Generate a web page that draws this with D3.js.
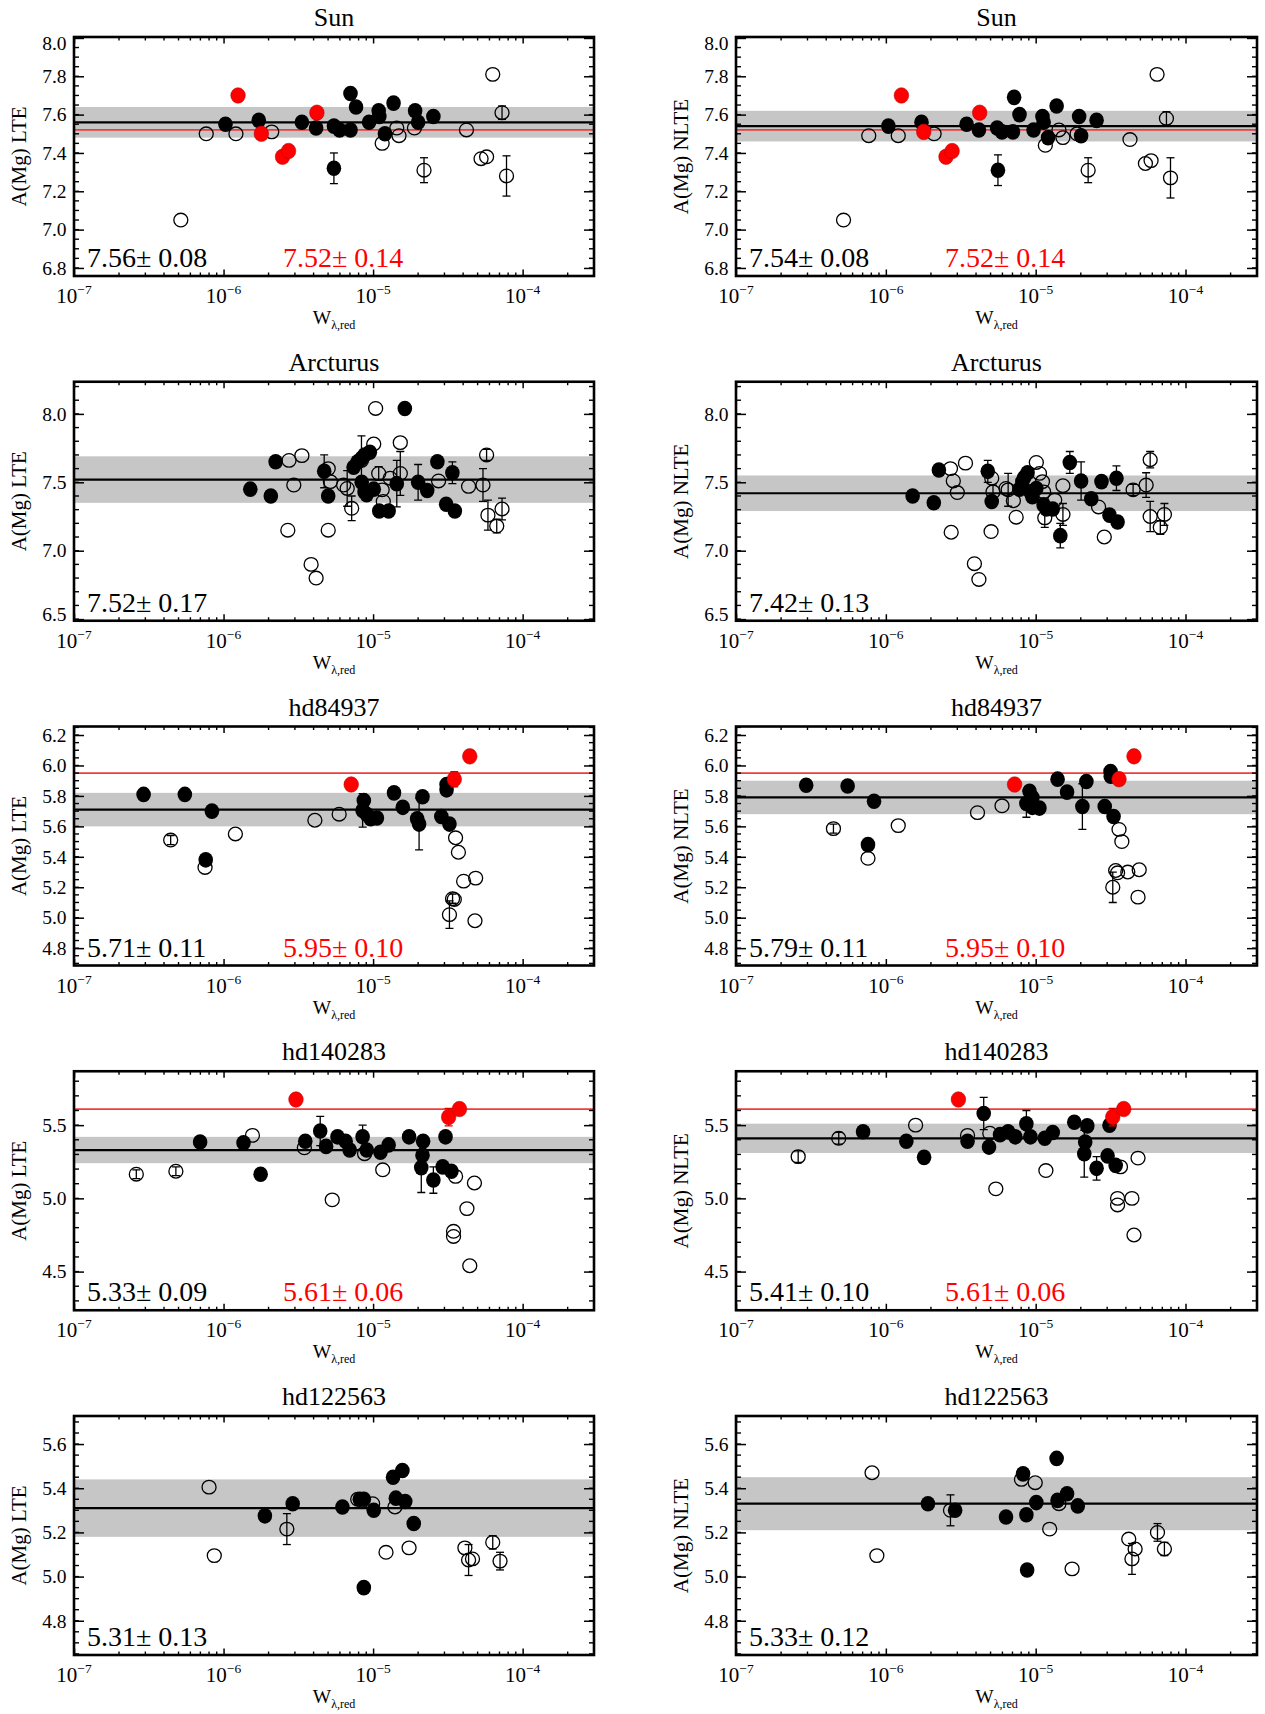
<!DOCTYPE html>
<html><head><meta charset="utf-8">
<script src="https://cdn.jsdelivr.net/npm/d3@7"></script>
<style>body{margin:0;background:#fff} text{font-family:"Liberation Serif","Times New Roman",serif;fill:#000}</style>
</head><body><svg id="c" width="1265" height="1714"></svg>
<script>
// ---------- data: [W_lambda,red , A(Mg), error] ----------
const stars = ["Sun","Arcturus","hd84937","hd140283","hd122563"];
const meanLTE = [7.56, 7.52, 5.71, 5.33, 5.31];
const sigLTE  = [0.08, 0.17, 0.11, 0.09, 0.13];
const meanNLTE = [7.54, 7.42, 5.79, 5.41, 5.33];
const sigNLTE  = [0.08, 0.13, 0.11, 0.10, 0.12];
const redMean = [7.52, null, 5.95, 5.61, null];
const redSig  = [0.14, null, 0.10, 0.06, null];
const yDomains = [[6.758, 8.005],[6.488, 8.235],[4.686, 6.256],[4.236, 5.868],[4.645, 5.727]];
const yTicks = [[6.8,7.0,7.2,7.4,7.6,7.8,8.0],[6.5,7.0,7.5,8.0],[4.8,5.0,5.2,5.4,5.6,5.8,6.0,6.2],[4.5,5.0,5.5],[4.8,5.0,5.2,5.4,5.6]];
const yMinor = [0.05, 0.1, 0.05, 0.1, 0.05];
const xDomain = [1e-7, 3e-4];
const xDecades = [1e-7, 1e-6, 1e-5, 1e-4];
const xDecadeLabels = ["−7","−6","−5","−4"];

const sunLteFilled = [[1.03e-6,7.55,0],[1.72e-6,7.57,0],[3.34e-6,7.56,0],[4.16e-6,7.53,0],[5.47e-6,7.54,0],[5.97e-6,7.52,0],[7.06e-6,7.52,0],[7.06e-6,7.71,0],[7.69e-6,7.64,0],[9.40e-6,7.56,0],[1.09e-5,7.62,0],[1.10e-5,7.59,0],[1.20e-5,7.50,0],[1.37e-5,7.66,0],[1.91e-5,7.62,0],[2.00e-5,7.56,0],[2.53e-5,7.59,0],[5.47e-6,7.32,0.08]];
const sunLteRed = [[1.25e-6,7.70,0],[1.79e-6,7.50,0],[4.21e-6,7.61,0],[2.48e-6,7.38,0],[2.72e-6,7.41,0]];
const sunLteOpen = [[5.18e-7,7.05,0],[7.66e-7,7.50,0],[1.21e-6,7.50,0],[2.10e-6,7.51,0],[1.15e-5,7.45,0],[1.44e-5,7.53,0],[1.49e-5,7.49,0],[1.89e-5,7.53,0],[2.19e-5,7.31,0.065],[4.21e-5,7.52,0],[5.27e-5,7.37,0],[5.74e-5,7.38,0],[6.31e-5,7.81,0],[7.28e-5,7.61,0.035],[7.80e-5,7.28,0.105]];

const sunNlteFilled = [[1.04e-6,7.54,0],[1.73e-6,7.56,0],[3.46e-6,7.55,0],[4.18e-6,7.52,0],[5.53e-6,7.53,0],[5.96e-6,7.51,0],[7.05e-6,7.51,0],[7.18e-6,7.69,0],[7.80e-6,7.60,0],[9.68e-6,7.52,0],[1.11e-5,7.59,0],[1.13e-5,7.56,0],[1.21e-5,7.48,0],[1.38e-5,7.645,0],[1.95e-5,7.59,0],[2.01e-5,7.49,0],[2.55e-5,7.57,0],[5.60e-6,7.31,0.08]];
const sunNlteRed = [[1.27e-6,7.70,0],[1.79e-6,7.51,0],[4.23e-6,7.61,0],[2.52e-6,7.38,0],[2.77e-6,7.41,0]];
const sunNlteOpen = [[5.22e-7,7.05,0],[7.69e-7,7.49,0],[1.21e-6,7.49,0],[2.10e-6,7.50,0],[1.16e-5,7.44,0],[1.43e-5,7.52,0],[1.52e-5,7.48,0],[1.89e-5,7.50,0],[2.24e-5,7.31,0.065],[4.26e-5,7.47,0],[5.40e-5,7.345,0],[5.89e-5,7.36,0],[6.46e-5,7.81,0],[7.46e-5,7.58,0.035],[7.94e-5,7.27,0.105]];

const arcLteFilled = [[1.51e-6,7.45,0],[2.07e-6,7.40,0],[2.23e-6,7.65,0],[4.71e-6,7.58,0.12],[5.01e-6,7.40,0],[7.41e-6,7.61,0],[7.89e-6,7.65,0],[8.39e-6,7.675,0],[8.77e-6,7.70,0],[9.51e-6,7.72,0],[8.39e-6,7.50,0],[8.77e-6,7.43,0],[9.06e-6,7.41,0],[1.01e-5,7.45,0],[1.10e-5,7.29,0],[1.27e-5,7.29,0],[1.44e-5,7.49,0.17],[2.00e-5,7.50,0.13],[2.30e-5,7.44,0],[2.69e-5,7.65,0],[3.08e-5,7.34,0],[3.39e-5,7.57,0.08],[3.52e-5,7.29,0],[1.63e-5,8.04,0]];
const arcLteOpen = [[2.69e-6,7.15,0],[2.74e-6,7.66,0],[2.95e-6,7.48,0],[3.34e-6,7.695,0],[3.85e-6,6.90,0],[4.16e-6,6.80,0],[5.01e-6,7.15,0],[5.01e-6,7.60,0],[5.18e-6,7.505,0],[6.35e-6,7.48,0],[6.71e-6,7.455,0.13],[7.19e-6,7.31,0.09],[8.36e-6,7.66,0.18],[1.01e-5,7.78,0],[1.04e-5,8.04,0],[1.09e-5,7.565,0.05],[1.15e-5,7.445,0],[1.17e-5,7.36,0],[1.30e-5,7.53,0],[1.52e-5,7.79,0],[1.52e-5,7.565,0.16],[2.74e-5,7.51,0],[4.35e-5,7.47,0],[5.43e-5,7.48,0.12],[5.74e-5,7.70,0.04],[5.86e-5,7.26,0.11],[6.71e-5,7.18,0.05],[7.28e-5,7.305,0.08]];

const arcNlteFilled = [[1.51e-6,7.40,0],[2.09e-6,7.35,0],[2.26e-6,7.59,0],[4.79e-6,7.58,0.08],[5.09e-6,7.36,0],[7.80e-6,7.45,0],[8.15e-6,7.505,0],[8.39e-6,7.535,0],[8.83e-6,7.57,0],[9.23e-6,7.43,0],[9.51e-6,7.395,0],[1.01e-5,7.455,0],[1.13e-5,7.335,0],[1.18e-5,7.305,0],[1.30e-5,7.305,0],[1.46e-5,7.11,0.09],[1.69e-5,7.645,0.08],[2.01e-5,7.51,0.14],[2.35e-5,7.38,0],[2.75e-5,7.505,0],[3.11e-5,7.26,0],[3.46e-5,7.53,0.09],[3.52e-5,7.21,0]];
const arcNlteOpen = [[2.73e-6,7.135,0],[2.70e-6,7.60,0],[2.82e-6,7.51,0],[3.00e-6,7.425,0],[3.40e-6,7.64,0],[3.90e-6,6.905,0],[4.18e-6,6.79,0],[5.04e-6,7.14,0],[5.09e-6,7.53,0],[5.19e-6,7.43,0.05],[6.34e-6,7.455,0],[6.55e-6,7.445,0.12],[7.10e-6,7.365,0],[7.41e-6,7.245,0],[1.01e-5,7.645,0],[1.06e-5,7.565,0],[1.11e-5,7.505,0],[1.13e-5,7.43,0],[1.15e-5,7.24,0.07],[1.34e-5,7.37,0],[1.52e-5,7.475,0],[1.52e-5,7.265,0.08],[2.63e-5,7.32,0],[2.87e-5,7.10,0],[4.47e-5,7.445,0.04],[5.46e-5,7.48,0.09],[5.81e-5,7.665,0.06],[5.81e-5,7.25,0.11],[6.79e-5,7.17,0.05],[7.23e-5,7.265,0.08]];

const hd84937LteFilled = [[2.92e-7,5.81,0],[5.51e-7,5.81,0],[8.36e-7,5.70,0],[7.60e-7,5.38,0],[8.67e-6,5.77,0],[8.51e-6,5.705,0.11],[9.06e-6,5.68,0],[9.64e-6,5.65,0],[1.06e-5,5.655,0],[1.38e-5,5.82,0],[1.58e-5,5.725,0],[2.03e-5,5.615,0.17],[1.97e-5,5.65,0],[2.14e-5,5.795,0],[2.86e-5,5.665,0],[3.10e-5,5.875,0],[3.10e-5,5.84,0],[3.24e-5,5.615,0]];
const hd84937LteRed = [[7.14e-6,5.875,0],[3.49e-5,5.91,0.05],[4.43e-5,6.06,0]];
const hd84937LteOpen = [[4.43e-7,5.51,0.03],[7.52e-7,5.33,0],[1.20e-6,5.55,0],[4.08e-6,5.64,0],[5.93e-6,5.68,0],[3.56e-5,5.525,0],[3.72e-5,5.43,0],[4.03e-5,5.24,0],[4.85e-5,5.26,0],[3.40e-5,5.125,0.03],[3.49e-5,5.12,0],[3.24e-5,5.02,0.09],[4.80e-5,4.98,0]];

const hd84937NlteFilled = [[2.94e-7,5.87,0],[5.56e-7,5.865,0],[8.34e-7,5.765,0],[7.60e-7,5.48,0],[9.10e-6,5.83,0],[8.67e-6,5.75,0.09],[9.51e-6,5.79,0],[9.51e-6,5.725,0],[1.06e-5,5.72,0],[1.40e-5,5.91,0],[1.62e-5,5.825,0],[2.05e-5,5.73,0.15],[2.18e-5,5.895,0],[2.89e-5,5.73,0],[3.16e-5,5.96,0],[3.17e-5,5.93,0],[3.31e-5,5.665,0]];
const hd84937NlteRed = [[7.23e-6,5.875,0],[3.60e-5,5.91,0.04],[4.53e-5,6.06,0]];
const hd84937NlteOpen = [[4.47e-7,5.585,0.03],[7.60e-7,5.39,0],[1.21e-6,5.605,0],[4.09e-6,5.69,0],[5.96e-6,5.735,0],[3.60e-5,5.58,0],[3.76e-5,5.50,0],[3.42e-5,5.31,0],[3.52e-5,5.295,0],[3.27e-5,5.20,0.10],[4.12e-5,5.30,0],[4.91e-5,5.315,0],[4.82e-5,5.135,0]];

const hd140283LteFilled = [[6.97e-7,5.385,0],[1.36e-6,5.38,0],[1.77e-6,5.165,0],[3.52e-6,5.39,0],[4.43e-6,5.46,0.10],[4.85e-6,5.355,0],[5.78e-6,5.42,0],[6.55e-6,5.39,0],[6.97e-6,5.33,0],[8.51e-6,5.42,0.08],[9.06e-6,5.33,0],[1.12e-5,5.315,0],[1.27e-5,5.365,0],[1.74e-5,5.42,0],[2.16e-5,5.39,0],[2.14e-5,5.295,0],[2.10e-5,5.21,0.17],[2.53e-5,5.125,0.09],[2.92e-5,5.215,0],[3.05e-5,5.42,0],[3.34e-5,5.185,0]];
const hd140283LteRed = [[3.05e-6,5.675,0],[3.20e-5,5.555,0.06],[3.78e-5,5.61,0]];
const hd140283LteOpen = [[2.61e-7,5.165,0.03],[4.80e-7,5.185,0.03],[1.56e-6,5.43,0],[3.47e-6,5.345,0],[5.33e-6,4.99,0],[8.77e-6,5.305,0],[1.16e-5,5.195,0],[3.56e-5,5.15,0],[4.76e-5,5.105,0],[4.24e-5,4.93,0],[3.45e-5,4.775,0],[3.45e-5,4.74,0],[4.43e-5,4.54,0]];

const hd140283NlteFilled = [[7.05e-7,5.455,0],[1.37e-6,5.39,0],[1.80e-6,5.28,0],[3.51e-6,5.39,0],[4.50e-6,5.58,0.11],[4.88e-6,5.35,0],[5.78e-6,5.435,0],[6.55e-6,5.455,0],[7.31e-6,5.42,0],[8.67e-6,5.51,0.09],[9.23e-6,5.42,0],[1.15e-5,5.41,0],[1.30e-5,5.45,0],[1.81e-5,5.52,0],[2.21e-5,5.495,0],[2.14e-5,5.385,0],[2.11e-5,5.305,0.16],[2.55e-5,5.205,0.08],[3.02e-5,5.29,0],[3.11e-5,5.50,0],[3.42e-5,5.225,0]];
const hd140283NlteRed = [[3.05e-6,5.675,0],[3.27e-5,5.555,0.06],[3.87e-5,5.61,0]];
const hd140283NlteOpen = [[2.60e-7,5.285,0.04],[4.85e-7,5.41,0.04],[1.58e-6,5.50,0],[3.51e-6,5.43,0],[4.94e-6,5.445,0],[5.42e-6,5.065,0],[1.17e-5,5.19,0],[3.68e-5,5.215,0],[4.82e-5,5.275,0],[3.52e-5,5.00,0],[3.52e-5,4.955,0],[4.39e-5,5.00,0],[4.53e-5,4.75,0]];

const hd122563LteFilled = [[1.89e-6,5.275,0],[2.90e-6,5.33,0],[6.24e-6,5.315,0],[8.15e-6,5.35,0],[8.67e-6,5.35,0],[1.01e-5,5.30,0],[1.36e-5,5.45,0],[1.57e-5,5.48,0],[1.42e-5,5.355,0],[1.64e-5,5.34,0],[1.87e-5,5.24,0],[8.67e-6,4.95,0]];
const hd122563LteOpen = [[8.00e-7,5.405,0],[8.67e-7,5.095,0],[2.65e-6,5.215,0.07],[7.89e-6,5.35,0],[9.93e-6,5.33,0],[1.40e-5,5.315,0],[1.22e-5,5.11,0],[1.74e-5,5.13,0],[4.11e-5,5.13,0],[4.35e-5,5.075,0.07],[4.62e-5,5.08,0],[6.31e-5,5.155,0.03],[7.06e-5,5.07,0.04]];

const hd122563NlteFilled = [[1.91e-6,5.33,0],[2.90e-6,5.30,0],[6.34e-6,5.27,0],[8.24e-6,5.465,0],[8.67e-6,5.28,0],[1.01e-5,5.335,0],[1.38e-5,5.535,0],[1.40e-5,5.345,0],[1.62e-5,5.375,0],[1.91e-5,5.32,0],[8.77e-6,5.03,0]];
const hd122563NlteOpen = [[8.09e-7,5.47,0],[8.71e-7,5.095,0],[2.70e-6,5.30,0.07],[8.04e-6,5.44,0],[9.93e-6,5.425,0],[1.43e-5,5.33,0],[1.24e-5,5.215,0],[1.75e-5,5.035,0],[4.18e-5,5.17,0],[4.39e-5,5.08,0.07],[4.61e-5,5.125,0],[6.50e-5,5.20,0.04],[7.23e-5,5.125,0.03]];

// ---------- assemble ----------
const panelData = [
  [{filled:sunLteFilled, open:sunLteOpen, red:sunLteRed},{filled:sunNlteFilled, open:sunNlteOpen, red:sunNlteRed}],
  [{filled:arcLteFilled, open:arcLteOpen, red:[]},{filled:arcNlteFilled, open:arcNlteOpen, red:[]}],
  [{filled:hd84937LteFilled, open:hd84937LteOpen, red:hd84937LteRed},{filled:hd84937NlteFilled, open:hd84937NlteOpen, red:hd84937NlteRed}],
  [{filled:hd140283LteFilled, open:hd140283LteOpen, red:hd140283LteRed},{filled:hd140283NlteFilled, open:hd140283NlteOpen, red:hd140283NlteRed}],
  [{filled:hd122563LteFilled, open:hd122563LteOpen, red:[]},{filled:hd122563NlteFilled, open:hd122563NlteOpen, red:[]}]
];

const svg = d3.select("#c");
const colL = [74, 736], colW = [520, 521];
const H = 239;
const rowTop = i => 37 + i * 344.75;

function drawPanel(i, j) {
  const L = colL[j], R = L + colW[j], T = rowTop(i), B = T + H;
  const x = d3.scaleLog().domain(xDomain).range([L, R]);
  const y = d3.scaleLinear().domain(yDomains[i]).range([B, T]);
  const g = svg.append("g");
  const clipId = "clip" + i + "_" + j;
  svg.append("clipPath").attr("id", clipId).append("rect")
    .attr("x", L).attr("y", T).attr("width", R - L).attr("height", H);
  const pg = g.append("g").attr("clip-path", `url(#${clipId})`);
  const mean = j === 0 ? meanLTE[i] : meanNLTE[i];
  const sig = j === 0 ? sigLTE[i] : sigNLTE[i];

  pg.append("rect").attr("x", L).attr("width", R - L)
    .attr("y", y(mean + sig)).attr("height", y(mean - sig) - y(mean + sig))
    .attr("fill", "#c6c6c6");
  pg.append("line").attr("x1", L).attr("x2", R).attr("y1", y(mean)).attr("y2", y(mean))
    .attr("stroke", "#000").attr("stroke-width", 2.2);
  if (redMean[i] !== null) {
    pg.append("line").attr("x1", L).attr("x2", R).attr("y1", y(redMean[i])).attr("y2", y(redMean[i]))
      .attr("stroke", "#f03c3c").attr("stroke-width", 1.7);
  }

  const d = panelData[i][j];
  function errBars(arr, color) {
    arr.filter(p => p[2] > 0).forEach(p => {
      const cx = x(p[0]), y1 = y(p[1] + p[2]), y2 = y(p[1] - p[2]);
      pg.append("line").attr("x1", cx).attr("x2", cx).attr("y1", y1).attr("y2", y2)
        .attr("stroke", color).attr("stroke-width", 1.3);
      [y1, y2].forEach(yy => pg.append("line").attr("x1", cx - 4).attr("x2", cx + 4)
        .attr("y1", yy).attr("y2", yy).attr("stroke", color).attr("stroke-width", 1.3));
    });
  }
  pg.selectAll(null).data(d.open).join("ellipse")
    .attr("cx", p => x(p[0])).attr("cy", p => y(p[1])).attr("rx", 7).attr("ry", 6.8)
    .attr("fill", "none").attr("stroke", "#000").attr("stroke-width", 1.3);
  errBars(d.open, "#000");
  pg.selectAll(null).data(d.filled).join("ellipse")
    .attr("cx", p => x(p[0])).attr("cy", p => y(p[1])).attr("rx", 7.3).attr("ry", 7.8)
    .attr("fill", "#000");
  errBars(d.filled, "#000");
  errBars(d.red, "#e00000");
  pg.selectAll(null).data(d.red).join("ellipse")
    .attr("cx", p => x(p[0])).attr("cy", p => y(p[1])).attr("rx", 7.3).attr("ry", 7.8)
    .attr("fill", "#ff0000").attr("stroke", "#b00000").attr("stroke-width", 0.5);

  // minor ticks
  const tk = g.append("g").attr("stroke", "#000").attr("stroke-width", 1.4);
  const xMinor = [];
  xDecades.forEach(dd => { for (let k = 2; k <= 9; k++) { const v = dd * k; if (v <= xDomain[1]) xMinor.push(v); } });
  xMinor.forEach(v => {
    tk.append("line").attr("x1", x(v)).attr("x2", x(v)).attr("y1", B).attr("y2", B - 3.5);
    tk.append("line").attr("x1", x(v)).attr("x2", x(v)).attr("y1", T).attr("y2", T + 3.5);
  });
  const st = yMinor[i];
  const y0 = Math.ceil(yDomains[i][0] / st - 1e-6) * st;
  for (let v = y0; v <= yDomains[i][1] + 1e-9; v += st) {
    tk.append("line").attr("x1", L).attr("x2", L + 5).attr("y1", y(v)).attr("y2", y(v));
    tk.append("line").attr("x1", R).attr("x2", R - 5).attr("y1", y(v)).attr("y2", y(v));
  }
  // major ticks via axes
  const ax = [
    g.append("g").attr("transform", `translate(0,${B})`).call(d3.axisBottom(x).tickValues(xDecades).tickSize(-6.5).tickFormat("")),
    g.append("g").attr("transform", `translate(0,${T})`).call(d3.axisTop(x).tickValues(xDecades).tickSize(-6.5).tickFormat("")),
    g.append("g").attr("transform", `translate(${R},0)`).call(d3.axisRight(y).tickValues(yTicks[i]).tickSize(-10).tickFormat("")),
    g.append("g").attr("transform", `translate(${L},0)`).call(d3.axisLeft(y).tickValues(yTicks[i]).tickSize(-10).tickPadding(7.5).tickFormat(d3.format(".1f")))
  ];
  ax.forEach(a => { a.select(".domain").remove(); a.selectAll(".tick line").attr("stroke-width", 1.5); });
  ax[3].selectAll(".tick text").attr("font-size", 19.5).attr("font-family", '"Liberation Serif",serif').attr("fill", "#000")
    .attr("y", v => { const p = y(v); return Math.max(T + 6, Math.min(B - 6, p)) - p; });

  // frame
  g.append("rect").attr("x", L).attr("y", T).attr("width", R - L).attr("height", H)
    .attr("fill", "none").attr("stroke", "#000").attr("stroke-width", 2.6);

  // x tick labels
  xDecades.forEach((v, k) => {
    const t = g.append("text").attr("x", x(v)).attr("y", B + 27).attr("text-anchor", "middle").attr("font-size", 21);
    t.append("tspan").text("10");
    t.append("tspan").attr("font-size", 13.5).attr("dy", -9).text(xDecadeLabels[k]);
  });
  // x label
  const xl = g.append("text").attr("x", (L + R) / 2).attr("y", B + 48).attr("text-anchor", "middle").attr("font-size", 19.5);
  xl.append("tspan").text("W");
  xl.append("tspan").attr("font-size", 12).attr("dy", 5).text("λ,red");
  // y label
  g.append("text").attr("transform", `translate(${L - 48},${(T + B) / 2}) rotate(-90)`)
    .attr("text-anchor", "middle").attr("font-size", 21).text(j === 0 ? "A(Mg) LTE" : "A(Mg) NLTE");
  // title
  g.append("text").attr("x", (L + R) / 2).attr("y", T - 11).attr("text-anchor", "middle").attr("font-size", 26).text(stars[i]);
  // stats
  g.append("text").attr("x", L + 13).attr("y", B - 9).attr("font-size", 28)
    .text(mean.toFixed(2) + "± " + sig.toFixed(2));
  if (redMean[i] !== null) {
    g.append("text").attr("x", L + 209).attr("y", B - 9).attr("font-size", 28).style("fill", "#ff0000")
      .text(redMean[i].toFixed(2) + "± " + redSig[i].toFixed(2));
  }
}

for (let i = 0; i < stars.length; i++) for (let j = 0; j < 2; j++) drawPanel(i, j);
</script>
</body></html>
